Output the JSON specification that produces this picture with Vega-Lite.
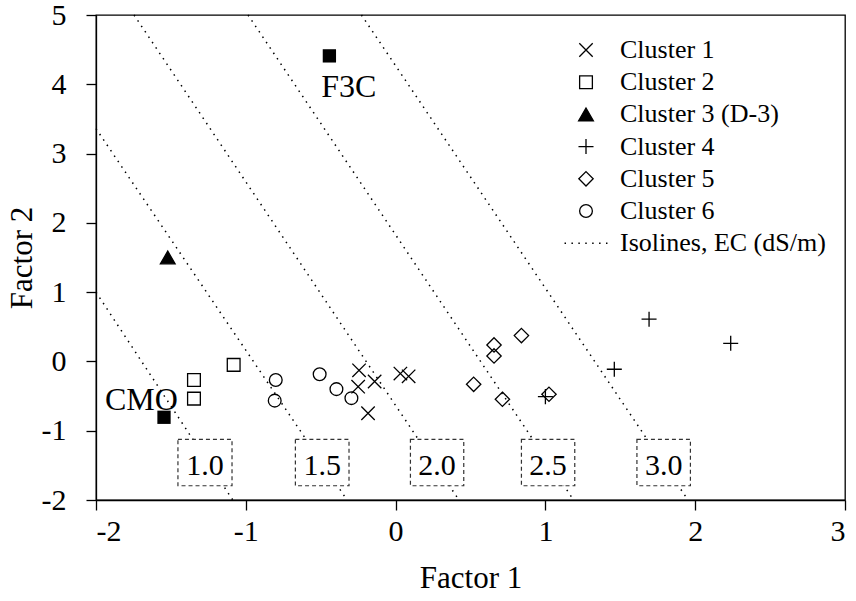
{
  "$schema": "https://vega.github.io/schema/vega-lite/v6.json",
  "width": 749,
  "height": 485,
  "autosize": {"type": "none"},
  "padding": {"left": 96, "top": 15, "right": 11, "bottom": 101},
  "background": "white",
  "config": {
    "view": {"stroke": "black", "strokeWidth": 1.3},
    "font": "Liberation Serif",
    "axis": {
      "grid": false,
      "domainColor": "black",
      "domainWidth": 1.3,
      "tickColor": "black",
      "tickWidth": 1.3,
      "tickSize": 10,
      "labelFont": "Liberation Serif",
      "labelFontSize": 30,
      "labelColor": "black",
      "titleFont": "Liberation Serif",
      "titleFontSize": 31,
      "titleFontWeight": "normal",
      "titleColor": "black"
    },
    "legend": {
      "orient": "none",
      "legendX": 477,
      "legendY": 22,
      "padding": 0,
      "labelFont": "Liberation Serif",
      "labelFontSize": 26,
      "labelColor": "black",
      "labelOffset": 21,
      "labelLimit": 0,
      "symbolSize": 180,
      "symbolStrokeWidth": 1.3,
      "rowPadding": 6.2,
      "title": null
    }
  },
  "datasets": {
    "points": [
      {"cluster": "Cluster 1", "f1": -0.244, "f2": -0.128},
      {"cluster": "Cluster 1", "f1": -0.25, "f2": -0.364},
      {"cluster": "Cluster 1", "f1": -0.14, "f2": -0.29},
      {"cluster": "Cluster 1", "f1": -0.184, "f2": -0.748},
      {"cluster": "Cluster 1", "f1": 0.032, "f2": -0.175},
      {"cluster": "Cluster 1", "f1": 0.087, "f2": -0.215},
      {"cluster": "Cluster 2", "f1": -1.346, "f2": -0.267},
      {"cluster": "Cluster 2", "f1": -1.346, "f2": -0.537},
      {"cluster": "Cluster 2", "f1": -1.081, "f2": -0.05},
      {"cluster": "Cluster 3 (D-3)", "f1": -1.521, "f2": 1.5},
      {"cluster": "Cluster 4", "f1": 1.0, "f2": -0.508},
      {"cluster": "Cluster 4", "f1": 1.46, "f2": -0.113},
      {"cluster": "Cluster 4", "f1": 1.692, "f2": 0.61},
      {"cluster": "Cluster 4", "f1": 2.237, "f2": 0.262},
      {"cluster": "Cluster 5", "f1": 0.657, "f2": 0.238},
      {"cluster": "Cluster 5", "f1": 0.657, "f2": 0.079},
      {"cluster": "Cluster 5", "f1": 0.84, "f2": 0.373},
      {"cluster": "Cluster 5", "f1": 0.521, "f2": -0.33},
      {"cluster": "Cluster 5", "f1": 0.713, "f2": -0.546},
      {"cluster": "Cluster 5", "f1": 1.024, "f2": -0.474},
      {"cluster": "Cluster 6", "f1": -0.8, "f2": -0.267},
      {"cluster": "Cluster 6", "f1": -0.807, "f2": -0.566},
      {"cluster": "Cluster 6", "f1": -0.507, "f2": -0.185},
      {"cluster": "Cluster 6", "f1": -0.395, "f2": -0.4},
      {"cluster": "Cluster 6", "f1": -0.295, "f2": -0.53}
    ],
    "refs": [
      {"name": "F3C", "f1": -0.442, "f2": 4.41, "lx": -0.313, "ly": 3.816},
      {"name": "CMO", "f1": -1.546, "f2": -0.806, "lx": -1.697, "ly": -0.7}
    ],
    "isolines": [
      {"ec": "1.0", "f1": -2.0, "f2": 1.0},
      {"ec": "1.0", "f1": -1.087, "f2": -2.0},
      {"ec": "1.5", "f1": -2.0, "f2": 3.36},
      {"ec": "1.5", "f1": -0.324, "f2": -2.0},
      {"ec": "2.0", "f1": -1.746, "f2": 5.0},
      {"ec": "2.0", "f1": 0.423, "f2": -2.0},
      {"ec": "2.5", "f1": -0.985, "f2": 5.0},
      {"ec": "2.5", "f1": 1.188, "f2": -2.0},
      {"ec": "3.0", "f1": -0.228, "f2": 5.0},
      {"ec": "3.0", "f1": 1.952, "f2": -2.0}
    ],
    "boxes": [
      {"ec": "1.0", "x1": -1.453, "x2": -1.092, "y1": -1.124, "y2": -1.794, "tx": -1.273, "ty": -1.64},
      {"ec": "1.5", "x1": -0.669, "x2": -0.311, "y1": -1.124, "y2": -1.794, "tx": -0.49, "ty": -1.64},
      {"ec": "2.0", "x1": 0.099, "x2": 0.455, "y1": -1.124, "y2": -1.794, "tx": 0.277, "ty": -1.64},
      {"ec": "2.5", "x1": 0.84, "x2": 1.196, "y1": -1.124, "y2": -1.794, "tx": 1.018, "ty": -1.64},
      {"ec": "3.0", "x1": 1.611, "x2": 1.968, "y1": -1.124, "y2": -1.794, "tx": 1.79, "ty": -1.64}
    ]
  },
  "layer": [
    {
      "data": {"name": "isolines"},
      "mark": {"type": "line", "color": "black", "strokeWidth": 1.5, "strokeDash": [1.5, 5]},
      "encoding": {
        "x": {"field": "f1", "type": "quantitative", "scale": {"domain": [-2, 3], "nice": false, "zero": false},
              "axis": {"values": [-2, -1, 0, 1, 2, 3], "labelExpr": "'' + datum.value", "title": "Factor 1", "labelPadding": 6, "titlePadding": 17}},
        "y": {"field": "f2", "type": "quantitative", "scale": {"domain": [-2, 5], "nice": false, "zero": false},
              "axis": {"values": [-2, -1, 0, 1, 2, 3, 4, 5], "labelExpr": "'' + datum.value", "title": "Factor 2", "labelPadding": 20, "titlePadding": 3}},
        "detail": {"field": "ec"}
      }
    },
    {
      "data": {"name": "boxes"},
      "mark": {"type": "rect", "fill": "white", "stroke": "#333333", "strokeWidth": 1.2, "strokeDash": [4, 3]},
      "encoding": {
        "x": {"field": "x1", "type": "quantitative"},
        "x2": {"field": "x2"},
        "y": {"field": "y1", "type": "quantitative"},
        "y2": {"field": "y2"}
      }
    },
    {
      "data": {"name": "boxes"},
      "mark": {"type": "text", "font": "Liberation Serif", "fontSize": 30, "color": "black", "align": "center", "baseline": "alphabetic"},
      "encoding": {
        "x": {"field": "tx", "type": "quantitative"},
        "y": {"field": "ty", "type": "quantitative"},
        "text": {"field": "ec"}
      }
    },
    {
      "mark": {"type": "rule", "color": "black", "strokeWidth": 1.3},
      "encoding": {"x": {"datum": 0}}
    },
    {
      "mark": {"type": "rule", "color": "black", "strokeWidth": 1.3},
      "encoding": {"y": {"datum": 0}}
    },
    {
      "data": {"name": "refs"},
      "mark": {"type": "point", "shape": "square", "filled": true, "color": "black", "size": 177, "opacity": 1},
      "encoding": {
        "x": {"field": "f1", "type": "quantitative"},
        "y": {"field": "f2", "type": "quantitative"}
      }
    },
    {
      "data": {"name": "refs"},
      "mark": {"type": "text", "font": "Liberation Serif", "fontSize": 32, "color": "black", "align": "center", "baseline": "alphabetic"},
      "encoding": {
        "x": {"field": "lx", "type": "quantitative"},
        "y": {"field": "ly", "type": "quantitative"},
        "text": {"field": "name"}
      }
    },
    {
      "data": {"name": "points"},
      "mark": {"type": "point", "size": 180, "strokeWidth": 1.3, "opacity": 1},
      "encoding": {
        "x": {"field": "f1", "type": "quantitative"},
        "y": {"field": "f2", "type": "quantitative"},
        "shape": {
          "field": "cluster", "type": "nominal",
          "scale": {
            "domain": ["Cluster 1", "Cluster 2", "Cluster 3 (D-3)", "Cluster 4", "Cluster 5", "Cluster 6", "Isolines, EC (dS/m)"],
            "range": [
              "M-1,-1L1,1M-1,1L1,-1",
              "M-0.95,-0.95L0.95,-0.95L0.95,0.95L-0.95,0.95Z",
              "M0,-0.95L1.1,0.95L-1.1,0.95Z",
              "M-1.12,0L1.12,0M0,-1.12L0,1.12",
              "M0,-1.07L1.07,0L0,1.07L-1.07,0Z",
              "M-0.95,0A0.95,0.95,0,1,1,0.95,0A0.95,0.95,0,1,1,-0.95,0Z",
              "M-3.2,-0.11h0.22v0.22h-0.22Z M-2.17,-0.11h0.22v0.22h-0.22Z M-1.14,-0.11h0.22v0.22h-0.22Z M-0.11,-0.11h0.22v0.22h-0.22Z M0.92,-0.11h0.22v0.22h-0.22Z M1.95,-0.11h0.22v0.22h-0.22Z M2.98,-0.11h0.22v0.22h-0.22Z"
            ]
          },
          "legend": {"title": null}
        },
        "fill": {
          "field": "cluster", "type": "nominal",
          "scale": {
            "domain": ["Cluster 1", "Cluster 2", "Cluster 3 (D-3)", "Cluster 4", "Cluster 5", "Cluster 6", "Isolines, EC (dS/m)"],
            "range": ["transparent", "transparent", "black", "transparent", "transparent", "transparent", "black"]
          },
          "legend": {"title": null}
        },
        "stroke": {
          "field": "cluster", "type": "nominal",
          "scale": {
            "domain": ["Cluster 1", "Cluster 2", "Cluster 3 (D-3)", "Cluster 4", "Cluster 5", "Cluster 6", "Isolines, EC (dS/m)"],
            "range": ["black", "black", "black", "black", "black", "black", "transparent"]
          },
          "legend": {"title": null}
        }
      }
    }
  ]
}
